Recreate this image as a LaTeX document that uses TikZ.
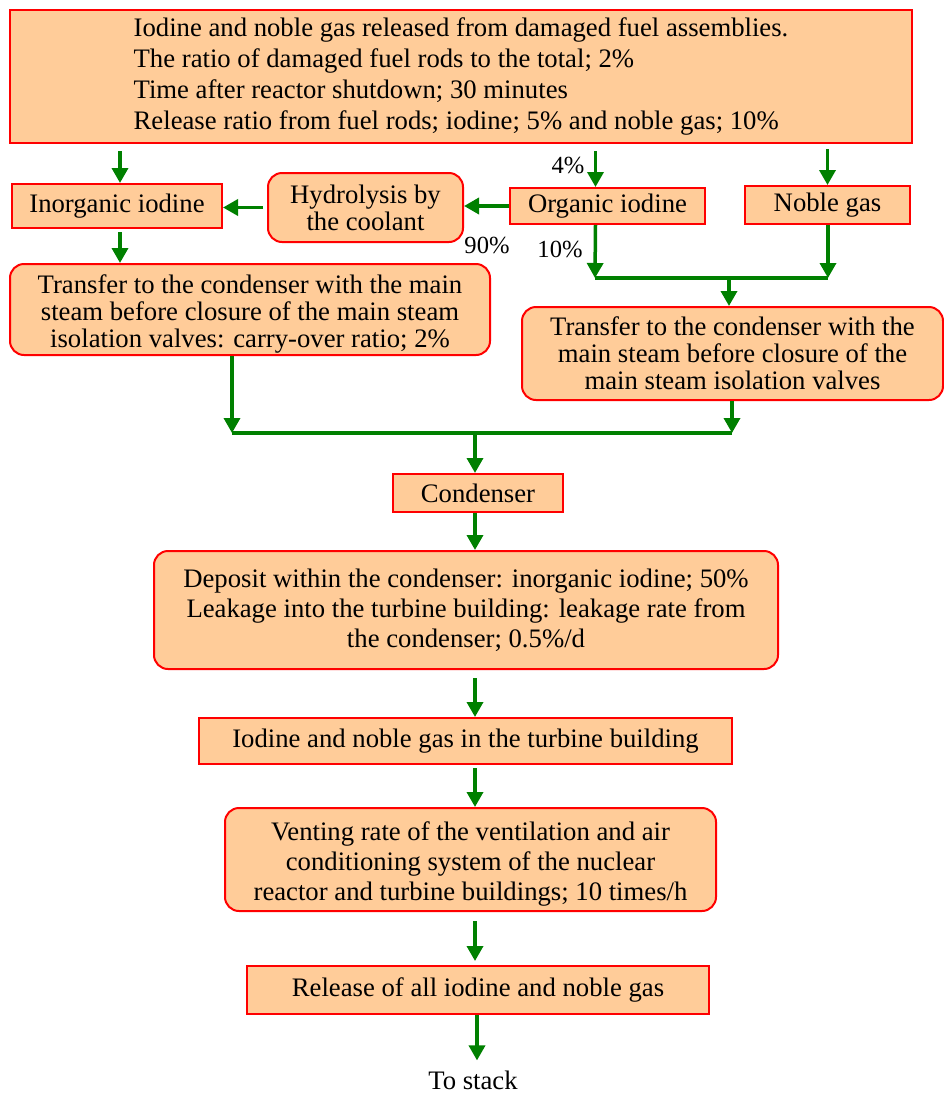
\documentclass[tikz,border=0pt]{standalone}
\usepackage{fontspec}
\setmainfont{Liberation Serif}
\usetikzlibrary{arrows.meta}

\definecolor{boxfill}{HTML}{FFCC99}
\definecolor{boxline}{HTML}{FF0000}
\definecolor{flowgreen}{HTML}{008000}

\tikzset{
    sqbox/.style={draw=boxline, fill=boxfill, line width=2pt, inner sep=0pt, align=center},
    rndbox/.style={sqbox, rounded corners=14pt},
    flow/.style={draw=flowgreen, line width=3.5pt, -{Triangle[width=16pt,length=15pt]}},
    link/.style={draw=flowgreen, line width=3.5pt},
    pct/.style={font=\fontsize{24.6}{26}\selectfont},
}

\begin{document}
\begin{tikzpicture}[x=1pt, y=-1pt, font=\fontsize{26.7}{30}\selectfont]
    \useasboundingbox (0,0) rectangle (944,1093);

    % Draw nodes
    \node[sqbox, align=left, minimum width=902pt, minimum height=133pt, font=\fontsize{26.7}{31}\selectfont] (fuel) at (461,76.5)
        {Iodine and noble gas released from damaged fuel assemblies.\\
         The ratio of damaged fuel rods to the total; 2\%\\
         Time after reactor shutdown; 30 minutes\\
         Release ratio from fuel rods; iodine; 5\% and noble gas; 10\%};
    \node[sqbox, minimum width=210pt, minimum height=44pt] (inorg) at (117,206) {Inorganic iodine};
    \node[rndbox, minimum width=195pt, minimum height=69pt, font=\fontsize{26.7}{27}\selectfont] (hydro) at (365.5,207.5) {Hydrolysis by\\the coolant};
    \node[sqbox, minimum width=195pt, minimum height=36pt] (orgi) at (607.5,206) {Organic iodine};
    \node[sqbox, minimum width=165pt, minimum height=38pt] (noble) at (827.5,205) {Noble gas};
    \node[rndbox, minimum width=480pt, minimum height=91pt, font=\fontsize{26.7}{27}\selectfont] (xfer1) at (250,309.5)
        {\rule{0pt}{28pt}Transfer to the condenser with the main\\steam before closure of the main steam\\isolation valves: carry-over ratio; 2\%};
    \node[rndbox, minimum width=421pt, minimum height=93pt, font=\fontsize{26.7}{27}\selectfont] (xfer2) at (732.5,353.5)
        {Transfer to the condenser with the\\main steam before closure of the\\main steam isolation valves};
    \node[sqbox, minimum width=170pt, minimum height=38pt] (cond) at (478,493) {Condenser};
    \node[rndbox, minimum width=624pt, minimum height=118pt] (deposit) at (466,610)
        {Deposit within the condenser: inorganic iodine; 50\%\\
         Leakage into the turbine building: leakage rate from\\
         the condenser; 0.5\%/d};
    \node[sqbox, minimum width=533pt, minimum height=46pt] (turbine) at (465.5,741) {Iodine and noble gas in the turbine building};
    \node[rndbox, minimum width=491pt, minimum height=103pt] (vent) at (470.5,859.5)
        {\rule{0pt}{28pt}Venting rate of the ventilation and air\\
         conditioning system of the nuclear\\
         reactor and turbine buildings; 10 times/h};
    \node[sqbox, minimum width=462pt, minimum height=48pt] (release) at (478,990) {Release of all iodine and noble gas};
    \node[inner sep=0pt] (stack) at (473,1080) {To stack};

    % Junction points
    \coordinate (orgin) at ([xshift=-12pt]orgi.north);
    \coordinate (orgout) at ([xshift=-12pt]orgi.south);
    \coordinate (ja) at (595,278);
    \coordinate (jb) at (828,278);
    \coordinate (jc) at (232,433);
    \coordinate (jd) at (732,433);
    \coordinate (spine) at (475,433);

    % Draw connections
    \draw[flow, shorten <=7pt] (fuel.south -| 120,0) -- (inorg.north -| 120,0);
    \draw[flow, shorten <=7pt] (orgin |- fuel.south) -- (orgin) node[pct, midway, left=6pt] {4\%};
    \draw[flow, shorten <=5pt] (noble.north |- fuel.south) -- (noble.north);
    \draw[flow] (orgi.west) -- (orgi.west -| hydro.east);
    \draw[flow, shorten <=4pt] (hydro.west) -- (hydro.west -| inorg.east);
    \draw[flow, shorten <=3pt] (inorg.south -| 120,0) -- (xfer1.north -| 120,0);
    \draw[flow] (orgout) -- (ja);
    \draw[flow] (noble.south -| jb) -- (jb);
    \draw[link] (ja) -- (jb);
    \draw[flow] (ja -| 729,0) -- (xfer2.north -| 729,0);
    \draw[flow] (xfer1.south -| jc) -- (jc);
    \draw[flow] (xfer2.south -| jd) -- (jd);
    \draw[link] (jc) -- (jd);
    \draw[flow] (spine) -- (spine |- cond.north);
    \draw[flow] (spine |- cond.south) -- (spine |- deposit.north);
    \draw[flow, shorten <=8pt] (spine |- deposit.south) -- (spine |- turbine.north);
    \draw[flow, shorten <=3pt] (spine |- turbine.south) -- (spine |- vent.north);
    \draw[flow, shorten <=9pt, shorten >=4pt] (spine |- vent.south) -- (spine |- release.north);
    \draw[flow, shorten >=10pt] (release.south -| 477,0) -- (stack.north -| 477,0);

    % Labels
    \node[pct] (lbl90) at (487,245) {90\%};
    \node[pct] (lbl10) at (560,249) {10\%};
\end{tikzpicture}
\end{document}
